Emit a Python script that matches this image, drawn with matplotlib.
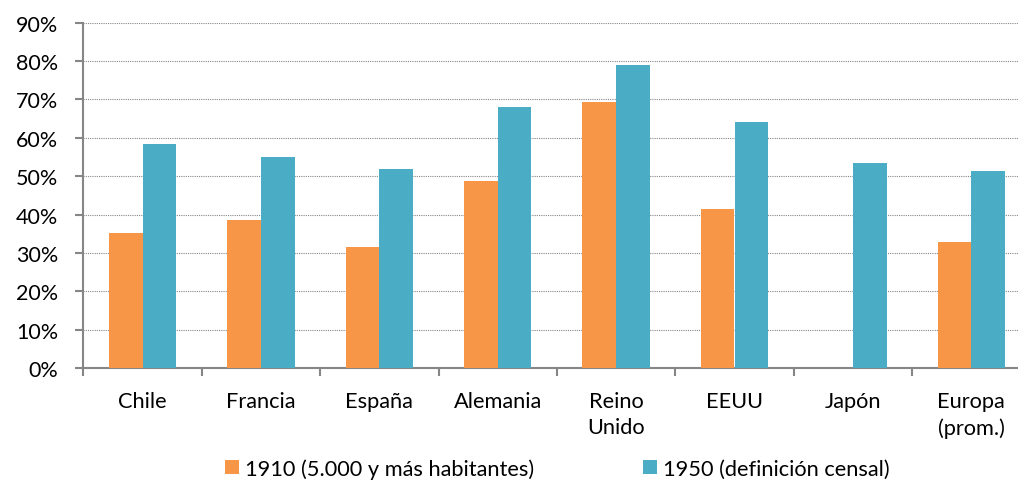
import matplotlib
matplotlib.use("Agg")
import matplotlib.pyplot as plt
from matplotlib.patches import Patch
from matplotlib.ticker import FuncFormatter, FixedLocator

categories = ["Chile", "Francia", "España", "Alemania", "Reino\nUnido", "EEUU", "Japón", "Europa\n(prom.)"]
serie_1910 = [35.1, 38.5, 31.6, 48.8, 69.2, 41.5, 0.0, 32.8]
serie_1950 = [58.3, 55.1, 51.9, 68.0, 78.9, 64.2, 53.4, 51.4]
label_1910 = "1910 (5.000 y más habitantes)"
label_1950 = "1950 (definición censal)"
yticks = [0, 10, 20, 30, 40, 50, 60, 70, 80, 90]

c_orange = "#F79646"
c_blue = "#4BACC6"
c_axis = "#868686"

plt.rcParams['font.family'] = ['Lato', 'DejaVu Sans']
fs = 15.7

fig = plt.figure(figsize=(10.18, 4.81), dpi=100)
W, H = 1018, 481
x0, x1 = 83.3, 1030.5
y0, y1 = 369.3, 23.5
ax = fig.add_axes([x0 / W, 1 - y0 / H, (x1 - x0) / W, (y0 - y1) / H])

n = len(categories)
xs = list(range(n))
w = 0.284
ax.bar([x - w / 2 for x in xs], serie_1910, width=w, color=c_orange, zorder=3)
ax.bar([x + w / 2 for x in xs], serie_1950, width=w, color=c_blue, zorder=3)

ax.set_xlim(-0.5, n - 0.5)
ax.set_ylim(0, 90)
ax.set_yticks(yticks)
ax.yaxis.set_major_formatter(FuncFormatter(lambda v, p: f"{v:.0f}%"))
ax.grid(axis='y', color=c_axis, linestyle=(0, (1, 1)), linewidth=0.8, zorder=0)
ax.set_axisbelow(True)

ax.set_xticks(xs)
ax.set_xticklabels(categories, fontsize=fs, linespacing=1.42, va='top')
ax.xaxis.set_minor_locator(FixedLocator([i - 0.5 for i in range(n + 1)]))
ax.tick_params(axis='x', which='major', length=0, pad=16)
ax.tick_params(axis='x', which='minor', length=5.5, width=1.5, color=c_axis, direction='out')
ax.tick_params(axis='y', which='major', length=6, width=1.5, color=c_axis, direction='out', pad=12, labelsize=15.5)

for s in ['top', 'right']:
    ax.spines[s].set_visible(False)
for s in ['left', 'bottom']:
    ax.spines[s].set_color(c_axis)
    ax.spines[s].set_linewidth(1.5)

handles = [Patch(facecolor=c_orange, edgecolor='none'), Patch(facecolor=c_blue, edgecolor='none')]
fig.legend(handles, [label_1910, label_1950], loc='center', bbox_to_anchor=(557.5 / W, 1 - 469.5 / H),
           ncol=2, frameon=False, fontsize=fs, handlelength=0.62, handleheight=0.62,
           handletextpad=0.3, columnspacing=5.0, borderaxespad=0, borderpad=0)

fig.savefig("out.png", dpi=100)
